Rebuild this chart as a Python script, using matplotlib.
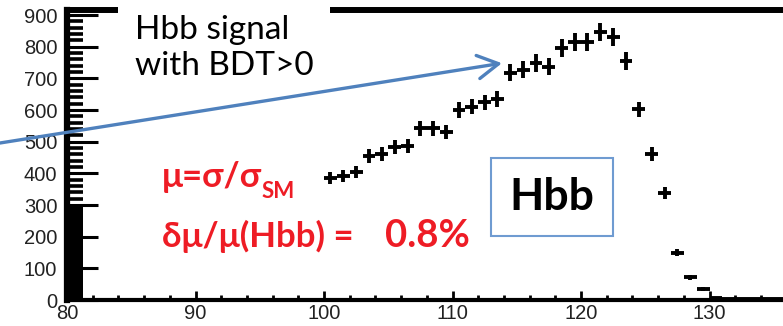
import numpy as np
import matplotlib.pyplot as plt
from matplotlib.ticker import FixedLocator, MultipleLocator

# ============================================================
# DATA - Hbb signal with BDT>0
# ============================================================
mass = np.arange(100.5, 136.0, 1.0)
events = [386, 392, 404, 455, 461, 483, 486, 542, 542, 530,
          600, 611, 624, 636, 718, 727, 749, 737, 796, 815,
          815, 846, 831, 755, 602, 461, 338, 150, 72, 35,
          5, 3, 3, 2, 2, 2]
xticks = [80, 90, 100, 110, 120, 130]
yticks = [0, 100, 200, 300, 400, 500, 600, 700, 800, 900]

W, H = 783, 326
RED = '#ee1c25'
BLUE = '#4f81bd'


def fx(px):
    return px / W


def fy(py):
    return 1 - py / H


fig = plt.figure(figsize=(W / 100, H / 100), dpi=100)
ax = fig.add_axes([fx(67), fy(300), fx(783) - fx(67), fy(10) - fy(300)])

ax.errorbar(mass, events, xerr=0.5, yerr=np.sqrt(events), fmt='none',
            ecolor='black', elinewidth=2.8, capsize=0, zorder=4)

ax.set_xlim(80, 80 + (783 - 67) / 12.85)
ax.set_ylim(0, 916)

# axis look (ROOT style: thick frame, inward ticks)
ax.spines['right'].set_visible(False)
ax.spines['left'].set_linewidth(4.5)
ax.spines['top'].set_linewidth(4.3)
ax.spines['bottom'].set_linewidth(3)

ax.xaxis.set_major_locator(FixedLocator(xticks))
ax.xaxis.set_minor_locator(MultipleLocator(2))
ax.yaxis.set_major_locator(FixedLocator(yticks))
ax.yaxis.set_minor_locator(FixedLocator(
    list(np.arange(0, 300, 5)) + list(np.arange(300, 910, 20))))

ax.tick_params(axis='y', which='major', direction='in', length=22, width=2.2,
               pad=7, labelsize=14.5, labelcolor='#222222')
ax.tick_params(axis='y', which='minor', direction='in', length=11.5, width=2.6)
ax.tick_params(axis='x', which='major', direction='in', length=6.5, width=2,
               pad=3, labelsize=14.5, labelcolor='#222222')
ax.tick_params(axis='x', which='minor', direction='in', length=3.5, width=2)
for lab in ax.get_xticklabels() + ax.get_yticklabels():
    lab.set_family('Liberation Sans')

# ============================================================
# ANNOTATIONS
# ============================================================
ax.text(fx(135), fy(75), 'Hbb signal\nwith BDT>0', transform=fig.transFigure,
        family=['Lato', 'DejaVu Sans'], fontsize=24, color='black',
        va='baseline', ha='left', linespacing=1.25, zorder=5, clip_on=False,
        bbox=dict(boxstyle='square,pad=0.5', fc='white', ec='none'))

ax.annotate('', xy=(113.85, 748), xycoords='data',
            xytext=(0, fy(143)), textcoords='figure fraction',
            arrowprops=dict(arrowstyle='->,head_length=0.75,head_width=0.42',
                            color=BLUE, lw=2.4, mutation_scale=20,
                            shrinkA=0, shrinkB=0),
            annotation_clip=False, zorder=6)

red_font = ['Lato', 'Noto Sans', 'DejaVu Sans']
ax.text(fx(162), fy(187), 'μ=σ/σ', transform=fig.transFigure, family=red_font,
        fontsize=25, fontweight='bold', color=RED, va='baseline', zorder=5)
ax.text(fx(262), fy(198), 'SM', transform=fig.transFigure, family=red_font,
        fontsize=16, fontweight='bold', color=RED, va='baseline', zorder=5)
ax.text(fx(162), fy(247), 'δμ/μ(Hbb) =', transform=fig.transFigure, family=red_font,
        fontsize=25, fontweight='bold', color=RED, va='baseline', zorder=5)
ax.text(fx(385), fy(247), '0.8%', transform=fig.transFigure, family=red_font,
        fontsize=27.5, fontweight='bold', color=RED, va='baseline', zorder=5)

ax.text(fx(552), fy(197), 'Hbb', transform=fig.transFigure,
        family=['Lato', 'DejaVu Sans'], fontsize=32, fontweight='bold',
        color='black', ha='center', va='center', zorder=5,
        bbox=dict(boxstyle='square,pad=0.42', fc='white', ec='#6f9bd1', lw=1.5))

fig.savefig('out.png', dpi=100)
